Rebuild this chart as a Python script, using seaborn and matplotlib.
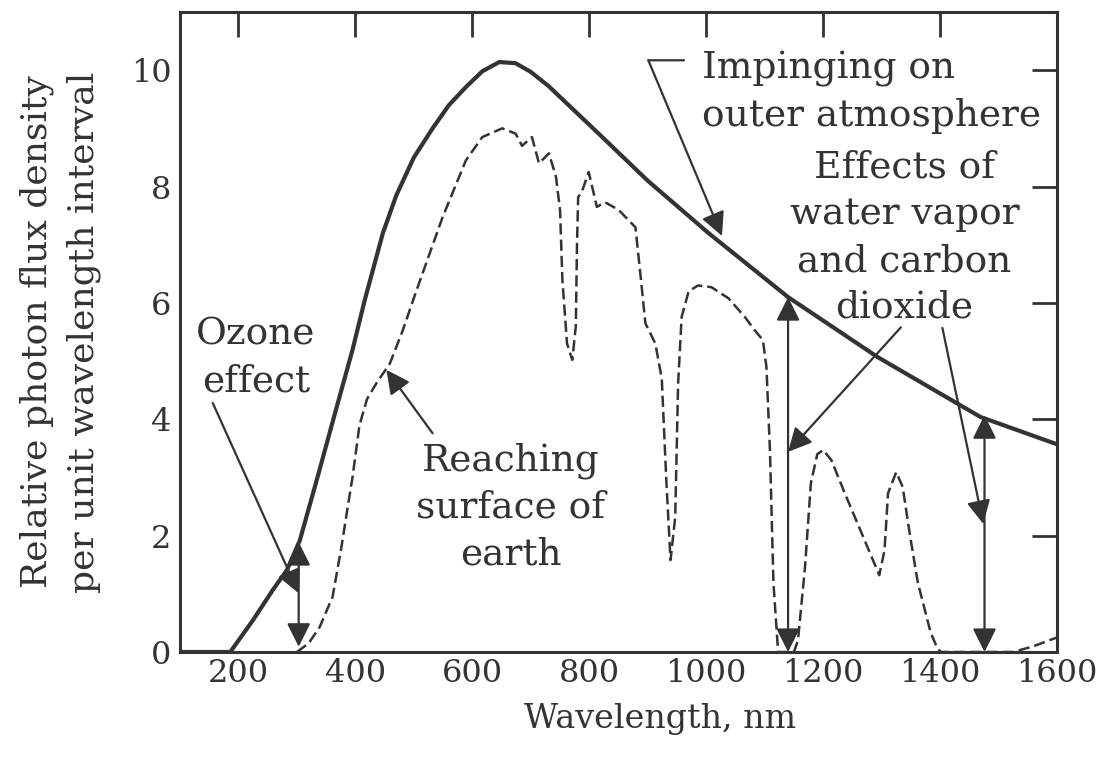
import pandas as pd
import matplotlib.pyplot as plt
import seaborn as sns

# === Values ===
# solid curve: photons impinging on the outer atmosphere
outer_nm = [100, 186, 225, 259, 283, 305, 334, 365, 395, 416, 447, 470, 500, 532,
            560, 589, 617, 646, 674, 700, 730, 816, 900, 1004, 1140, 1293, 1469, 1600]
outer_flux = [0, 0, 0.55, 1.07, 1.41, 1.92, 2.96, 4.1, 5.19, 6.05, 7.2, 7.85, 8.5, 9.0,
              9.4, 9.71, 9.98, 10.14, 10.12, 9.97, 9.73, 8.91, 8.1, 7.2, 6.1, 5.07, 4.04, 3.57]

# dashed curve: photons reaching the surface of the earth
surface_nm = [300, 320, 339, 361, 376, 387, 395, 407, 420, 436, 459, 480, 504, 549,
              589, 617, 651, 674, 685, 702, 714, 731, 743, 750, 754, 762, 771, 777,
              779, 781, 787, 799, 813, 827, 850, 879, 888, 896, 913, 924, 932, 939,
              947, 952, 958, 970, 986, 1009, 1038, 1066, 1083, 1097, 1103, 1109, 1115,
              1123, 1150, 1157, 1169, 1179, 1190, 1200, 1214, 1237, 1271, 1296, 1305,
              1311, 1325, 1336, 1348, 1362, 1384, 1396, 1402, 1525, 1560, 1600]
surface_flux = [0.0, 0.15, 0.43, 0.95, 1.8, 2.5, 3.0, 3.9, 4.35, 4.62, 4.96, 5.5, 6.2, 7.47,
                8.45, 8.85, 9.0, 8.91, 8.7, 8.85, 8.4, 8.57, 8.17, 7.6, 6.4, 5.3, 5.02, 5.6,
                7.0, 7.82, 7.9, 8.25, 7.65, 7.73, 7.6, 7.3, 6.44, 5.65, 5.3, 4.7, 2.9, 1.58,
                2.32, 4.62, 5.76, 6.2, 6.3, 6.27, 6.08, 5.76, 5.53, 5.36, 4.9, 3.47, 1.19,
                0.0, 0.0, 0.2, 1.46, 2.9, 3.4, 3.47, 3.3, 2.73, 1.92, 1.32, 1.75,
                2.73, 3.09, 2.84, 2.04, 1.19, 0.33, 0.05, 0.0, 0.0, 0.1, 0.25]

x_ticks = [200, 400, 600, 800, 1000, 1200, 1400, 1600]
y_ticks = [0, 2, 4, 6, 8, 10]

# double-headed arrows: wavelength, bottom, top
gap_nm = [303, 1140, 1476]
gap_low = [0.09, 0.0, 0.0]
gap_high = [1.89, 6.1, 4.07]

outer = pd.DataFrame({"nm": outer_nm, "flux": outer_flux})
surface = pd.DataFrame({"nm": surface_nm, "flux": surface_flux})

sns.set_theme(style="white")
plt.rcParams["font.family"] = ["DejaVu Serif"]
ink = "#333333"

fig = plt.figure(figsize=(11.08, 7.67), dpi=100)
ax = fig.add_axes([180 / 1108, 1 - 652 / 767, 877 / 1108, 640 / 767])

sns.lineplot(data=outer, x="nm", y="flux", ax=ax, color=ink, lw=3.0,
             estimator=None, sort=False)
sns.lineplot(data=surface, x="nm", y="flux", ax=ax, color=ink, lw=1.8,
             estimator=None, sort=False)
ax.lines[-1].set_dashes((4.5, 2))

ax.set_xlim(100, 1600)
ax.set_ylim(0, 11)
ax.set_xticks(x_ticks)
ax.set_yticks(y_ticks)
ax.tick_params(direction="in", length=18, width=2, color=ink, labelcolor=ink,
               top=True, right=True, labelsize=23)
ax.tick_params(axis="x", pad=4)
ax.tick_params(axis="y", pad=6)
for s in ax.spines.values():
    s.set_linewidth(2.2)
    s.set_color(ink)

ax.set_xlabel("Wavelength, nm", fontsize=24, color=ink)
ax.xaxis.set_label_coords(0.547, -0.08)
ax.set_ylabel("Relative photon flux density\nper unit wavelength interval",
              fontsize=26, color=ink, linespacing=1.45)
ax.yaxis.set_label_coords(-0.09, 0.5)


def arrow(tip, tail, style="-|>"):
    ax.annotate("", xy=tip, xytext=tail,
                arrowprops=dict(arrowstyle=style + ",head_length=0.6,head_width=0.3",
                                color=ink, lw=1.6, shrinkA=0, shrinkB=0,
                                mutation_scale=24))


# vertical double arrows marking absorption
for x, lo, hi in zip(gap_nm, gap_low, gap_high):
    arrow((x, hi), (x, lo), style="<|-|>")

# labels and pointer arrows
txt = dict(fontsize=27, color=ink, linespacing=1.38)
ax.text(992, 9.62, "Impinging on\nouter atmosphere", ha="left", va="center", **txt)
ax.annotate("", xy=(901, 10.17), xytext=(962, 10.17),
            arrowprops=dict(arrowstyle="-", color=ink, lw=1.6, shrinkA=0, shrinkB=0))
arrow((1027, 7.15), (901, 10.17))

ax.text(1339, 7.12, "Effects of\nwater vapor\nand carbon\ndioxide", ha="center",
        va="center", **txt)
arrow((1140, 3.44), (1333, 5.58))
arrow((1474, 2.2), (1404, 5.57))

ax.text(230, 5.05, "Ozone\neffect", ha="center", va="center", **txt)
arrow((303, 1.01), (156, 4.28))

ax.text(666, 2.49, "Reaching\nsurface of\nearth", ha="center", va="center", **txt)
arrow((453, 4.85), (532, 3.76))

fig.savefig("out.png", dpi=100, facecolor="white")
